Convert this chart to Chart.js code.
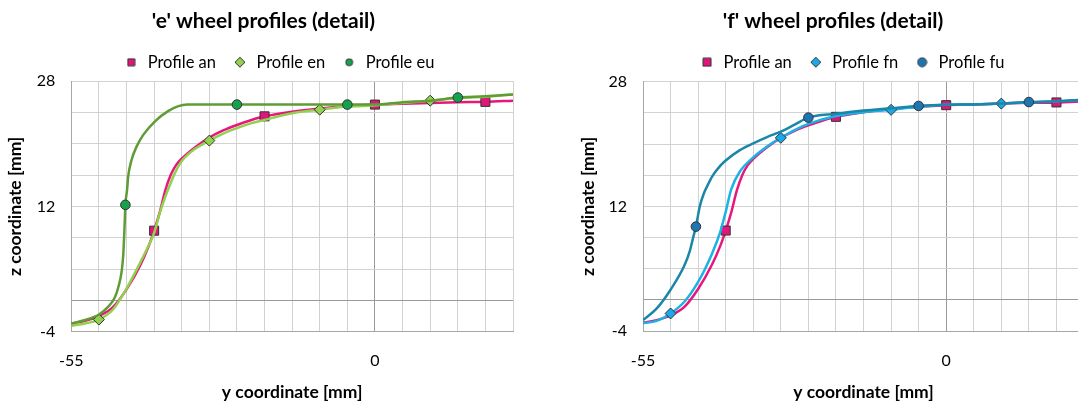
<!DOCTYPE html>
<html>
<head>
<meta charset="utf-8">
<script src="https://cdn.jsdelivr.net/npm/chart.js@4.4.0/dist/chart.umd.min.js"></script>
<style>
  html, body { margin: 0; padding: 0; background: #fff; width: 1078px; height: 405px; overflow: hidden; }
  .box { position: absolute; top: 0; height: 405px; }
  #left { left: 0; width: 533px; }
  #right { left: 570px; width: 534px; }
</style>
</head>
<body>
<div class="box" id="left"><canvas id="chartE"></canvas></div>
<div class="box" id="right"><canvas id="chartF"></canvas></div>
<script>
// axis ticks (only some carry a label)
const xTickLabels = [-55, 0]
const yTickLabels = [-4, 12, 28]

// Profile an (shared by both charts)
const anX = [-55, -52.5, -50, -47.5, -45, -42.5, -41, -40, -39, -38, -37, -36, -35, -32.5, -30, -27.5, -25, -22.5, -20, -15, -10, -5, 0, 5, 10, 15, 20, 25]
const anY = [-2.95, -2.6, -2.0, -0.9, 1.4, 4.5, 6.9, 8.9, 11.2, 14.0, 16.0, 17.3, 18.1, 19.6, 20.8, 21.7, 22.4, 23.0, 23.5, 24.1, 24.5, 24.8, 25.0, 25.1, 25.2, 25.3, 25.35, 25.5]
const anMarks = [-40, -20, 0, 20]

// Profile en
const enX = [-55, -52.5, -50, -47.5, -45, -42.5, -41, -40, -39, -38, -37, -36, -35, -32.5, -30, -27.5, -25, -22.5, -20, -15, -10, -5, 0, 5, 10, 15, 20, 25]
const enY = [-3.25, -2.95, -2.45, -1.2, 1.5, 4.85, 7.0, 8.6, 11.1, 13.2, 15.0, 16.6, 17.8, 19.4, 20.4, 21.3, 22.0, 22.6, 23.05, 23.9, 24.35, 24.75, 24.9, 25.2, 25.5, 25.8, 26.0, 26.3]
const enMarks = [-50, -30, -10, 10]

// Profile eu
const euX = [-55, -52.5, -50, -48.3, -47.1, -46.4, -45.9, -45.6, -45.4, -45.2, -44.9, -44.7, -44.1, -43.2, -42, -39.8, -37.4, -35.6, -34, -25, -5, 0, 5, 10, 15, 20, 25]
const euY = [-2.95, -2.5, -1.8, -0.8, 0.4, 1.9, 3.6, 5.7, 8.6, 12.2, 14.1, 15.8, 17.9, 19.6, 21.1, 22.9, 24.2, 24.8, 25.0, 25.0, 25.0, 25.0, 25.3, 25.5, 25.9, 26.05, 26.3]
const euMarks = [-45.2, -25, -5, 15]

// Profile fn
const fnX = [-55, -52.5, -50, -47.5, -45, -42.5, -41, -40, -39, -37.5, -35, -32.5, -30, -27.5, -25, -20, -15, -10, -5, 0, 5, 10, 15, 20, 25]
const fnY = [-3.0, -2.7, -1.75, -0.25, 2.3, 5.9, 8.7, 11.3, 14.2, 16.4, 18.3, 19.7, 20.8, 21.8, 22.6, 23.6, 24.1, 24.4, 24.8, 25.05, 25.1, 25.2, 25.35, 25.5, 25.7]
const fnMarks = [-50, -30, -10, 10]

// Profile fu
const fuX = [-55, -52.5, -50, -47.5, -46.5, -45.9, -45.4, -44.7, -44, -43, -42.5, -41, -40, -37.5, -35, -32.5, -30, -27.5, -25, -20, -15, -10, -5, 0, 5, 10, 15, 20, 25]
const fuY = [-2.6, -1.1, 1.3, 4.4, 6.3, 8.0, 9.4, 12.0, 13.6, 15.1, 15.8, 17.2, 17.9, 19.2, 20.1, 20.9, 21.6, 22.5, 23.4, 23.9, 24.3, 24.6, 24.9, 25.05, 25.1, 25.2, 25.4, 25.5, 25.7]
const fuMarks = [-45.4, -25, -5, 15]

const FONT = 'Lato, "Open Sans", sans-serif'

// small marker pictures for the legend
function markerImage(shape, fill, size) {
  const c = document.createElement('canvas')
  c.width = size + 2
  c.height = size + 2
  const g = c.getContext('2d')
  const m = (size + 2) / 2
  const h = size / 2
  g.fillStyle = fill
  g.strokeStyle = '#333'
  g.lineWidth = 1
  g.beginPath()
  if (shape === 'rect') {
    g.rect(m - h, m - h, size, size)
  } else if (shape === 'rectRot') {
    g.moveTo(m, m - h); g.lineTo(m + h, m); g.lineTo(m, m + h); g.lineTo(m - h, m); g.closePath()
  } else {
    g.arc(m, m, h, 0, Math.PI * 2)
  }
  g.fill()
  g.stroke()
  return c
}

function series(label, xs, ys, marks, line, fill, shape, radius, legendSize) {
  return {
    label,
    data: xs.map((x, i) => ({ x, y: ys[i] })),
    borderColor: line,
    borderWidth: 2.5,
    pointStyle: shape,
    pointBackgroundColor: fill,
    pointBorderColor: '#333',
    pointBorderWidth: 1,
    pointRadius: (ctx) => (ctx.raw && marks.includes(ctx.raw.x) ? radius : 0),
    pointHoverRadius: 0,
    cubicInterpolationMode: 'monotone',
    legendMarker: markerImage(shape, fill, legendSize),
  }
}

const nudgeLegend = {
  id: 'nudgeLegend',
  afterLayout(chart, args, opts) {
    const lg = chart.legend
    lg.left += opts.dx; lg.right += opts.dx
    lg.top += opts.dy; lg.bottom += opts.dy
  },
}

function gridColor(ctx) {
  return ctx.tick && ctx.tick.value === 0 ? '#9a9a9a' : '#d2d2d2'
}

function makeChart(canvas, title, datasets, lay) {
  return new Chart(canvas, {
    type: 'line',
    data: { datasets },
    plugins: [nudgeLegend],
    options: {
      responsive: true,
      maintainAspectRatio: false,
      animation: false,
      events: [],
      layout: { padding: { left: lay.padLeft, right: 20, top: 0, bottom: 0 } },
      plugins: {
        nudgeLegend: { dx: lay.legendDx, dy: lay.legendDy },
        tooltip: { enabled: false },
        title: {
          display: true,
          text: title,
          color: '#000',
          font: { family: FONT, size: 21, weight: 'bold', lineHeight: 1.2 },
          padding: { top: 8.9, bottom: lay.titleBottom },
        },
        legend: {
          display: true,
          position: 'top',
          labels: {
            usePointStyle: true,
            boxWidth: 16.5,
            boxHeight: 8,
            padding: 15.7,
            color: '#000',
            font: { family: FONT, size: 16.5 },
            sort: (a, b) => a.datasetIndex - b.datasetIndex,
            generateLabels(chart) {
              const items = Chart.defaults.plugins.legend.labels.generateLabels(chart)
              items.forEach((it) => { it.pointStyle = chart.data.datasets[it.datasetIndex].legendMarker })
              return items
            },
          },
        },
      },
      scales: {
        x: {
          type: 'linear',
          min: -55,
          max: 25,
          afterFit: (s) => { s.height = lay.xAxisHeight },
          ticks: {
            stepSize: 5,
            autoSkip: false,
            maxRotation: 0,
            padding: 20,
            color: '#000',
            font: { family: FONT, size: 16 },
            callback: (v) => (xTickLabels.includes(v) ? String(v) : ''),
          },
          grid: { color: gridColor, lineWidth: 1, drawTicks: false },
          border: { color: '#a6a6a6', width: 1 },
          title: {
            display: true,
            text: 'y coordinate [mm]',
            color: '#000',
            font: { family: FONT, size: 17.5, weight: 'bold', lineHeight: 1.2 },
            padding: { top: 8, bottom: 2 },
          },
        },
        y: {
          type: 'linear',
          min: -4,
          max: 28,
          afterFit: (s) => { s.width = lay.yAxisWidth },
          ticks: {
            stepSize: 4,
            autoSkip: false,
            padding: 16,
            color: '#000',
            font: { family: FONT, size: 16 },
            callback: (v) => (yTickLabels.includes(v) ? String(v) : ''),
          },
          grid: { color: gridColor, lineWidth: 1, drawTicks: false },
          border: { color: '#a6a6a6', width: 1 },
          title: {
            display: true,
            text: 'z coordinate [mm]',
            color: '#000',
            font: { family: FONT, size: 17.5, weight: 'bold', lineHeight: 1.2 },
            padding: { top: lay.yTitlePad, bottom: 0 },
          },
        },
      },
    },
  })
}

const anLeft = series('Profile an', anX, anY, anMarks, '#e8177d', '#e0157a', 'rect', 6.4, 7)
const enSet = series('Profile en', enX, enY, enMarks, '#92d050', '#92d050', 'rectRot', 5.5, 10)
const euSet = series('Profile eu', euX, euY, euMarks, '#5f9c35', '#14a34c', 'circle', 4.8, 7)
anLeft.order = 3; enSet.order = 2; euSet.order = 1

const anRight = series('Profile an', anX, anY, anMarks, '#e8177d', '#e0157a', 'rect', 6.4, 8)
const fnSet = series('Profile fn', fnX, fnY, fnMarks, '#19b3e6', '#1aa8e8', 'rectRot', 5.5, 10)
const fuSet = series('Profile fu', fuX, fuY, fuMarks, '#1b87a8', '#1d76b4', 'circle', 4.8, 9)
anRight.order = 3; fnSet.order = 2; fuSet.order = 1

makeChart(document.getElementById('chartE'), "'e' wheel profiles (detail)", [anLeft, enSet, euSet], {
  padLeft: 13.8, yAxisWidth: 57.5, yTitlePad: -8.8, xAxisHeight: 73.3,
  titleBottom: 4.8, legendDx: 15.3, legendDy: -0.6,
})

makeChart(document.getElementById('chartF'), "'f' wheel profiles (detail)", [anRight, fnSet, fuSet], {
  padLeft: 12, yAxisWidth: 61, yTitlePad: -4.5, xAxisHeight: 74,
  titleBottom: 5.5, legendDx: 18.6, legendDy: -1.3,
})
</script>
</body>
</html>
